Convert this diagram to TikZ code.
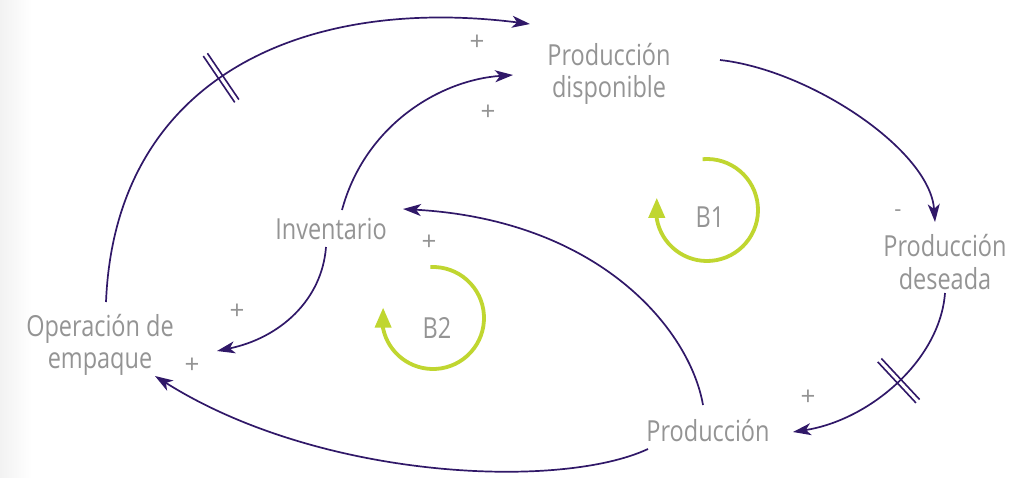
\documentclass[tikz,border=0pt]{standalone}
\usepackage{fontspec}
\setmainfont{Open Sans}
\usepackage{graphicx}
\usetikzlibrary{arrows.meta,calc,decorations.markings}
\definecolor{cldpurple}{RGB}{48,24,104}
\definecolor{cldgreen}{RGB}{192,214,48}
\definecolor{cldtext}{RGB}{148,148,148}
\definecolor{cldstrip}{RGB}{242,242,242}
\newcommand{\nq}[1]{\scalebox{0.81}[1]{#1}}
\begin{document}
\begin{tikzpicture}[x=1pt,y=-1pt,
  var/.style={text=cldtext, font=\fontsize{29}{32}\selectfont, align=center, inner sep=0pt},
  sgn/.style={text=cldtext, font=\fontsize{26}{30}\selectfont, inner sep=0pt},
  lbl/.style={text=cldtext, font=\fontsize{29}{32}\selectfont, inner sep=0pt},
  link/.style={draw=cldpurple, line width=1.7pt, -{Stealth[length=18pt,width=12pt,inset=5pt]}},
  loopar/.style={draw=cldgreen, line width=3.8pt, -{Triangle[length=20pt,width=16pt]}},
  delaymark/.style={postaction={decorate}, decoration={markings, mark=at position #1 with {\draw[-, cldpurple, line width=1.6pt] (-2.5,-28) -- (-2.5,28) (2.5,-28) -- (2.5,28);}}}
]
\useasboundingbox (0,0) rectangle (1031,477);
\fill[white] (0,0) rectangle (1031,477);
\shade[left color=cldstrip, right color=white] (0,0) rectangle (32,477);

% variables
\node[var] (pd) at (609,74) {\nq{Producción}\\\nq{disponible}};
\node[var, font=\fontsize{29}{33}\selectfont] (pde) at (945,262) {\nq{Producción}\\\nq{deseada}};
\node[var] (prod) at (708,431) {\nq{Producción}};
\node[var] (inv) at (331,229) {\nq{Inventario}};
\node[var] (opem) at (100,345) {\nq{Operación de}\\\nq{empaque}};

% links
\draw[link, delaymark=0.45] ($(opem)+(6,-43)$) .. controls (115,80) and (300,-5) .. ($(pd)+(-79,-50)$);
\draw[link] ($(inv)+(11,-19)$) .. controls (365,125) and (440,80) .. ($(pd)+(-96,1)$);
\draw[link] ($(inv)+(-5,18)$) .. controls (322,300) and (280,338) .. ($(opem)+(117,6)$);
\draw[link] ($(prod)+(-60,18)$) .. controls (560,490) and (320,480) .. ($(opem)+(55,31)$);
\draw[link] ($(prod)+(-5,-26)$) .. controls (690,330) and (600,220) .. ($(inv)+(72,-20)$);
\draw[link] ($(pd)+(111,-14)$) .. controls (810,70) and (930,150) .. ($(pde)+(-10,-40)$);
\draw[link, delaymark=0.46] ($(pde)+(0,31)$) .. controls (940,360) and (870,420) .. ($(prod)+(85,1)$);

% polarity signs
\node[sgn] (s1) at (477,43) {+};
\node[sgn] (s2) at (488,113) {+};
\node[sgn] (s3) at (429,243) {+};
\node[sgn] (s4) at (237,312) {+};
\node[sgn] (s5) at (192,366) {+};
\node[sgn] (s6) at (808,398) {+};
\node[sgn, font=\fontsize{22}{26}\selectfont] (s7) at (898,213) {-};

% loops
\coordinate (c1) at (707,210);
\draw[loopar] ($(c1)+(-95:51)$) arc[start angle=-95, end angle=170, radius=51] -- ++(0,-21);
\node[lbl] (b1) at (710,217) {\nq{B1}};
\coordinate (c2) at (433,318);
\draw[loopar] ($(c2)+(-93:51)$) arc[start angle=-93, end angle=168, radius=51] -- ++(0,-21);
\node[lbl] (b2) at (437,328) {\nq{B2}};
\end{tikzpicture}
\end{document}
